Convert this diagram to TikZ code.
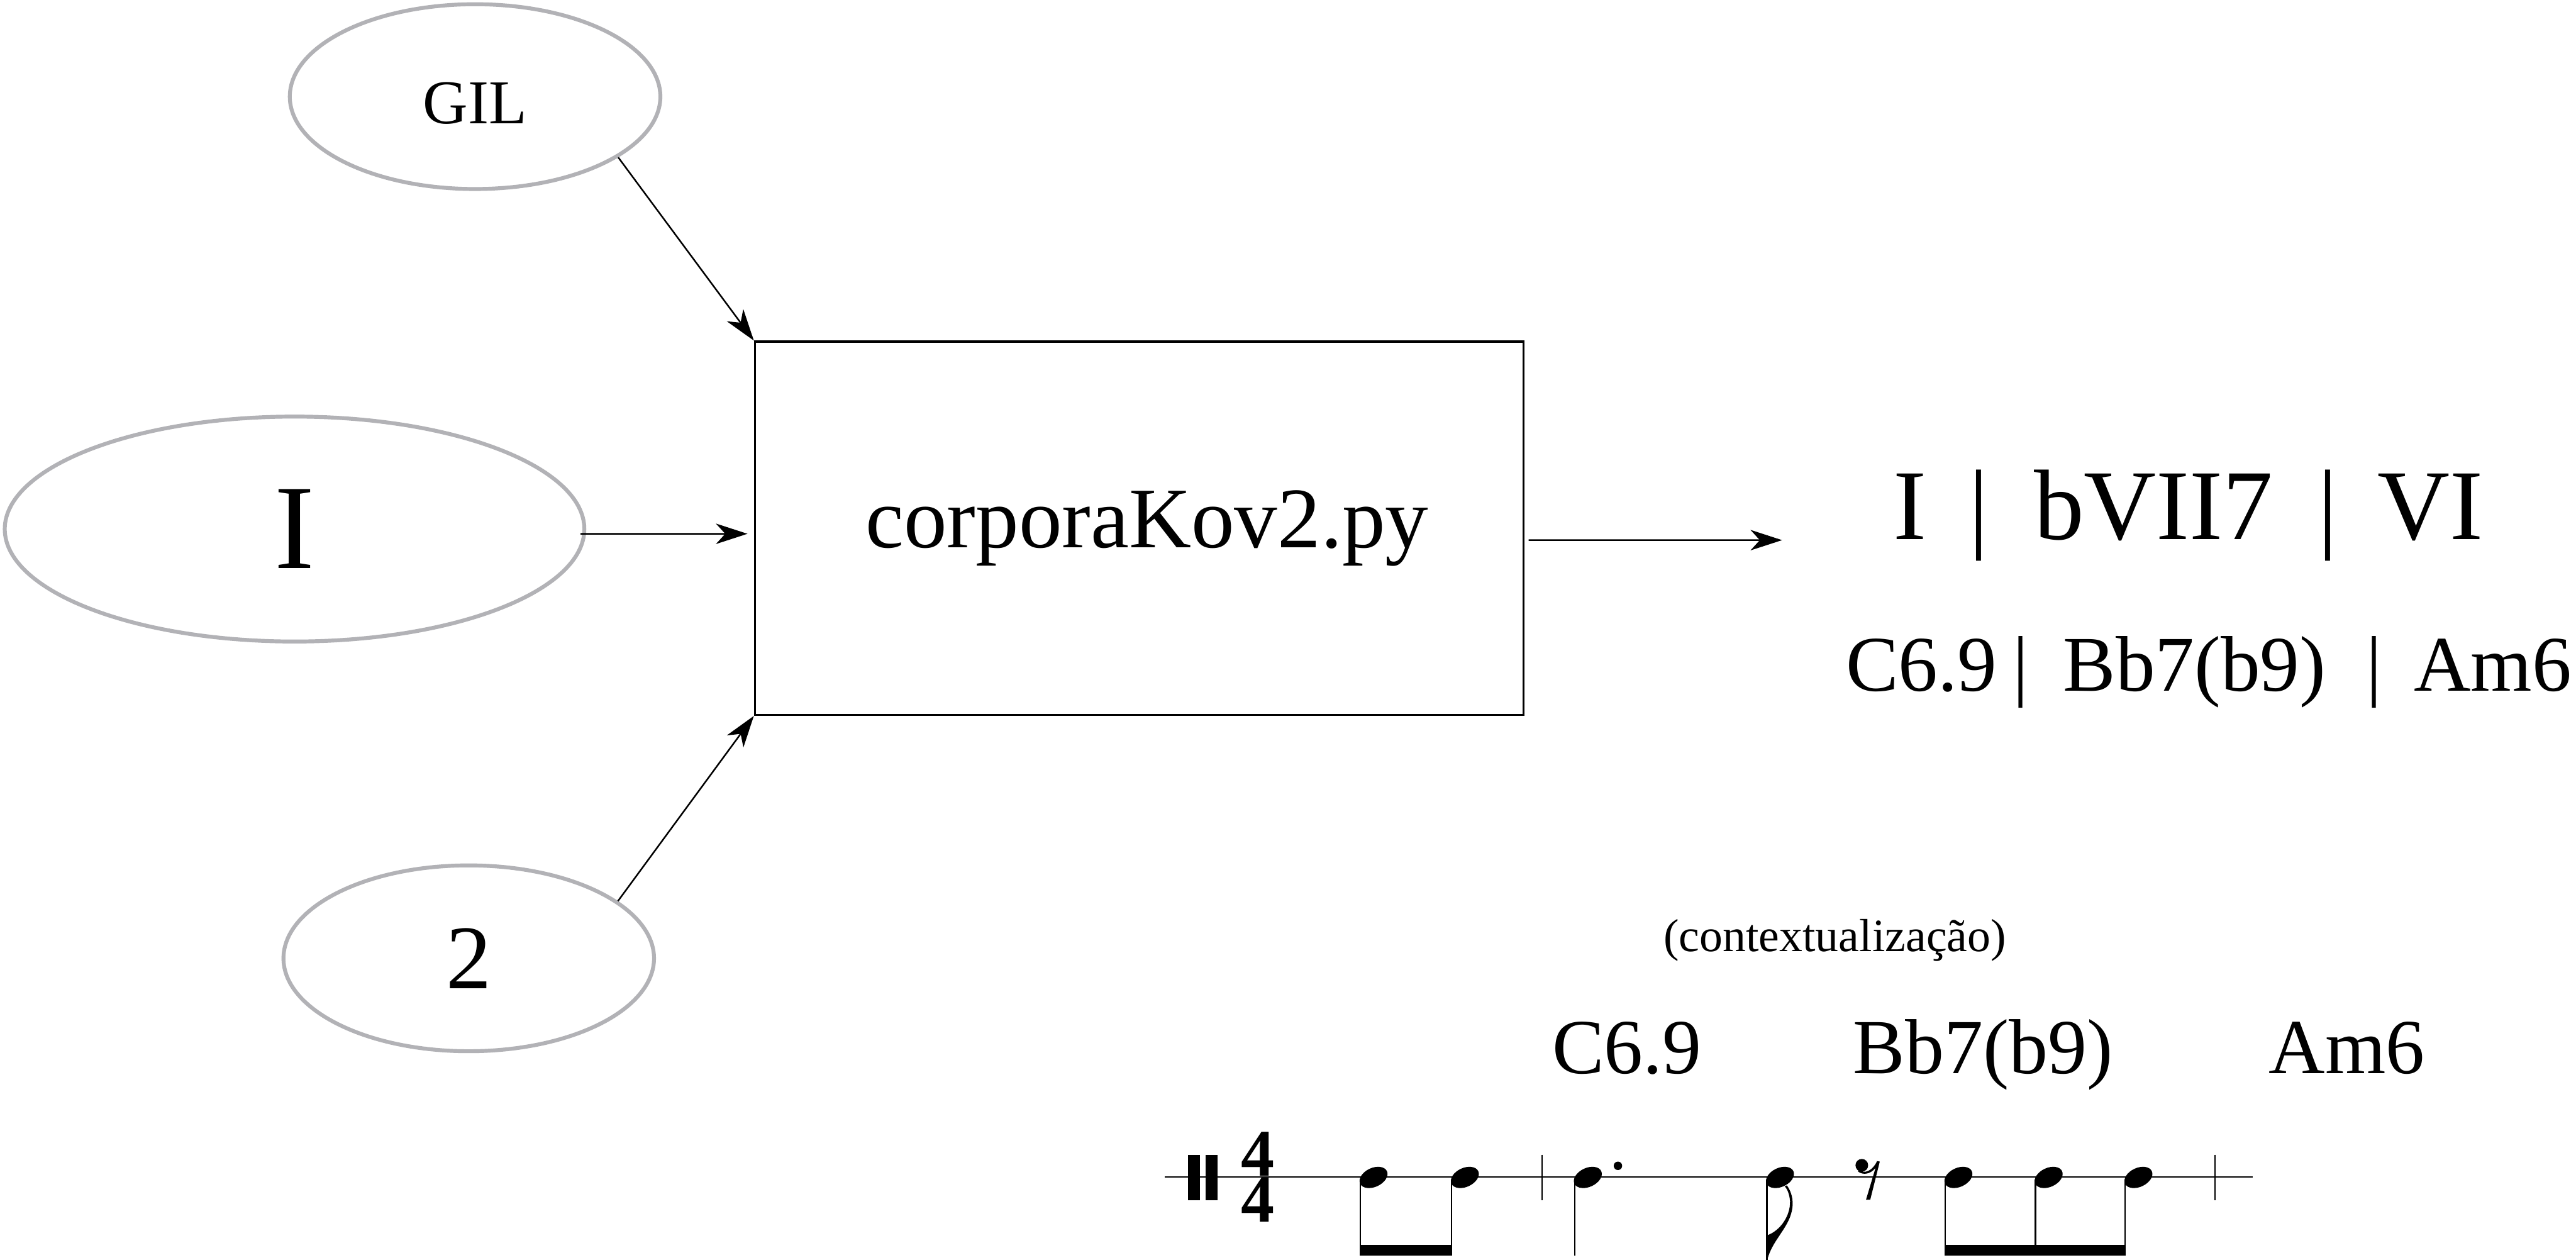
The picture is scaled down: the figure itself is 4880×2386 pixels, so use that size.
\documentclass[tikz,border=0pt]{standalone}
\usepackage{fontspec}
\setmainfont{Liberation Serif}
\usetikzlibrary{arrows.meta,shapes.geometric}
\definecolor{ellgray}{HTML}{B2B2B6}
\begin{document}
\begin{tikzpicture}[x=0.1mm,y=-0.1mm,
  ell/.style={draw=ellgray, line width=2.1pt, ellipse, inner sep=0pt},
  arr/.style={line width=0.85pt, -{Stealth[length=17pt,width=11pt,inset=5pt]}},
  txt/.style={inner sep=0pt, outer sep=0pt},
  stemline/.style={line width=0.8pt},
  barline/.style={line width=0.85pt},
  notehead/.style={fill=black},
]
\useasboundingbox (0,0) rectangle (4880,2386);
\fill[white] (0,0) rectangle (4880,2386);

% input ellipses
\node[ell, minimum width=70.2mm, minimum height=35mm, font=\fontsize{33.6}{40}\selectfont] (gil) at (900,183) {\raisebox{-1.2mm}[\height][0pt]{GIL}};
\node[ell, minimum width=109.8mm, minimum height=42.6mm, font=\fontsize{65}{70}\selectfont] (iel) at (558,1002) {I};
\node[ell, minimum width=70.2mm, minimum height=35.2mm, font=\fontsize{49}{55}\selectfont] (two) at (888,1815) {2};

% program box
\node[draw, line width=1.1pt, rectangle, minimum width=145.6mm, minimum height=70.7mm, inner sep=0pt, font=\fontsize{46.5}{50}\selectfont] (box) at (2158,1000.5) {\hspace*{3mm}corporaKov2.py};

\coordinate (outend) at (3376,1023);

% connectors
\draw[arr] (gil.-23.5) -- (box.north west);
\draw[arr] ([shift={(-11,9)}]iel.east) -- ([shift={(-12,10.5)}]box.west);
\draw[arr] (two.21.6) -- (box.south west);
\draw[arr] ([shift={(8,22.5)}]box.east) -- (outend);

% output texts
\node[txt, anchor=base west, font=\fontsize{54}{60}\selectfont] (roman) at (3587,1022) {I\hspace{8mm}|\hspace{8.5mm}bVII7\hspace{8.5mm}|\hspace{7.5mm}VI};
\node[txt, anchor=base west, font=\fontsize{42.5}{48}\selectfont] (chords) at (3497,1309) {C6.9\hspace{3mm}|\hspace{6.5mm}Bb7(b9)\hspace{7.7mm}|\hspace{6mm}Am6};
\node[txt, anchor=base, font=\fontsize{25}{30}\selectfont] (ctx) at (3476,1802) {(contextualização)};
\node[txt, anchor=base, font=\fontsize{42}{48}\selectfont] (ca) at (3082,2033) {C6.9};
\node[txt, anchor=base, font=\fontsize{42}{48}\selectfont] (cb) at (3757,2033) {Bb7(b9)};
\node[txt, anchor=base, font=\fontsize{42}{48}\selectfont] (cc) at (4446,2033) {Am6};

% rhythm notation
\draw[line width=0.8pt] (2207,2229) -- (4268,2229);
\fill (2251,2187) rectangle (2273,2273);
\fill (2284,2187) rectangle (2306,2273);
\node[txt, align=center, font=\bfseries\fontsize{36}{23.5}\selectfont] (tsig) at (2383,2229) {4\\4};
\draw[barline] (2921,2187) -- (2921,2273);
\draw[barline] (4196,2187) -- (4196,2273);

\foreach \x in {2602,2775,3008,3372,3710,3881,4051}
  \fill[notehead, rotate around={25:(\x,2230)}] (\x,2230) ellipse [x radius=28, y radius=18];
\foreach \x in {2577,2750,2983,3685,3856,4026}
  \draw[stemline] (\x,2234) -- (\x,2378);
\draw[stemline] (3347,2234) -- (3347,2386);
\fill (2576,2358) rectangle (2751,2378);
\fill (3684,2358) rectangle (4027,2378);
% dot
\fill (3065,2208) circle (8);
% flag
\fill (3347,2340) .. controls (3375,2330) and (3392,2300) .. (3391,2275)
  .. controls (3390,2262) and (3386,2252) .. (3381,2247) -- (3385,2245)
  .. controls (3392,2255) and (3396,2266) .. (3396,2280)
  .. controls (3395,2322) and (3358,2345) .. (3348,2386) -- (3346,2386) -- cycle;
% eighth rest
\fill (3527,2207) circle (12);
\fill (3520,2214) .. controls (3533,2226) and (3548,2216) .. (3556,2199) -- (3561,2200)
  -- (3543,2272) -- (3535,2272) -- (3553,2212)
  .. controls (3543,2224) and (3530,2226) .. (3520,2219) -- cycle;
\end{tikzpicture}
\end{document}
